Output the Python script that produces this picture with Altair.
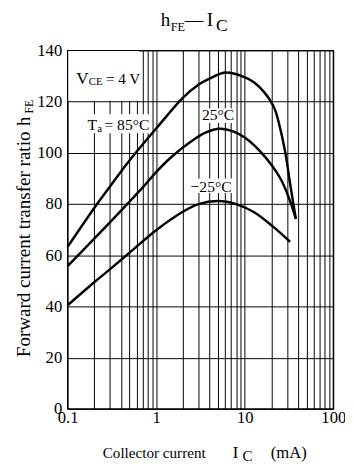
import altair as alt
import pandas as pd

FONT = "Liberation Serif, Times New Roman, serif"

# ---------------- data ----------------
ic_85 = [0.1, 0.2, 0.3, 0.5, 1.0, 2.0, 3.0, 4.0, 6.0, 9.0, 12.8, 16.0, 19.4, 22.0, 24.1, 28.6, 32.2, 37.8]
hfe_85 = [63.3, 78.5, 86.8, 97.0, 109.5, 121.5, 126.6, 129.0, 131.4, 130.2, 127.5, 124.3, 120.5, 116.8, 112.2, 100.5, 89.0, 74.2]

ic_25 = [0.1, 0.2, 0.471, 0.75, 1.0, 1.5, 2.5, 3.6, 5.26, 7.5, 10.0, 15.5, 25.2, 32.5, 37.8]
hfe_25 = [55.8, 66.5, 80.0, 87.5, 92.5, 98.5, 104.5, 107.9, 109.4, 108.3, 106.0, 100.0, 90.1, 81.2, 74.2]

ic_m25 = [0.1, 0.2, 0.3, 0.5, 1.0, 2.0, 3.0, 5.0, 8.0, 12.8, 21.2, 32.5]
hfe_m25 = [40.5, 49.5, 54.5, 61.0, 69.8, 77.0, 80.0, 81.2, 80.0, 76.8, 71.0, 65.3]

series_names = ["85", "25", "-25"]

x_grid = [0.1, 0.2, 0.3, 0.4, 0.5, 0.6, 0.7, 0.8, 0.9,
          1, 2, 3, 4, 5, 6, 7, 8, 9,
          10, 20, 30, 40, 50, 60, 70, 80, 90, 100]
y_grid = [0, 20, 40, 60, 80, 100, 120, 140]

# white backgrounds behind the in-plot labels (data coordinates)
box_x1 = [0.1, 0.161, 3.24, 2.39]
box_x2 = [0.64, 0.87, 7.69, 7.31]
box_y1 = [120.4, 107.7, 111.7, 84.3]
box_y2 = [140.0, 115.1, 117.4, 90.0]

# label anchors (data coordinates)
vce_anchor = (0.125, 126.9)
ta_anchor = (0.1674, 109.1)
note_text = ["25°C", "\u221225°C"]
note_x = [5.0, 4.17]
note_y = [112.7, 84.8]

# ---------------- build tables ----------------
rows = []
for name, xs, ys in zip(series_names, [ic_85, ic_25, ic_m25], [hfe_85, hfe_25, hfe_m25]):
    for i, (a, b) in enumerate(zip(xs, ys)):
        rows.append({"series": name, "ic": a, "hfe": b, "order": i})
curves = pd.DataFrame(rows)

boxes = pd.DataFrame({"x1": box_x1, "x2": box_x2, "y1": box_y1, "y2": box_y2})
notes = pd.DataFrame({"t": note_text, "x": note_x, "y": note_y})

W, H = 272, 367

xscale = alt.Scale(type="log", domain=[0.1, 100], nice=False)
yscale = alt.Scale(domain=[0, 140], nice=False, zero=True)

label_expr = ("abs(log(datum.value)/LN10 - round(log(datum.value)/LN10)) < 0.000001"
              " ? format(datum.value, '~g') : ''")

xaxis = alt.Axis(values=x_grid, grid=True, gridColor="black", gridOpacity=1, gridWidth=1,
                 ticks=False, domain=False, labelExpr=label_expr, labelFont=FONT,
                 labelFontSize=17, labelColor="black", labelPadding=1, title=None,
                 labelFlush=False, labelOverlap=False)
yaxis = alt.Axis(values=y_grid, grid=True, gridColor="black", gridOpacity=1, gridWidth=1,
                 ticks=False, domain=False, labelFont=FONT, labelFontSize=17,
                 labelColor="black", labelPadding=6, title=None, labelOverlap=False)


def X(field):
    return alt.X(field, scale=xscale, axis=xaxis)


def Y(field):
    return alt.Y(field, scale=yscale, axis=yaxis)


box_layer = alt.Chart(boxes).mark_rect(color="white").encode(
    x=X("x1:Q"), x2="x2:Q", y=Y("y1:Q"), y2="y2:Q",
)

line_layer = alt.Chart(curves).mark_line(color="black", strokeWidth=2.5,
                                         interpolate="catmull-rom").encode(
    x=X("ic:Q"), y=Y("hfe:Q"), detail="series:N", order="order:Q",
)


def data_text(anchor, text, dx=0, dy=0, size=16, align="left"):
    df = pd.DataFrame({"x": [anchor[0]], "y": [anchor[1]]})
    return alt.Chart(df).mark_text(text=text, dx=dx, dy=dy, font=FONT, fontSize=size,
                                   align=align, baseline="alphabetic", color="black").encode(
        x=X("x:Q"), y=Y("y:Q"),
    )


def px_text(x, y, text, size=17, align="left", angle=0):
    df = pd.DataFrame({"k": [0]})
    return alt.Chart(df).mark_text(text=text, font=FONT, fontSize=size, align=align,
                                   baseline="alphabetic", angle=angle,
                                   color="black").encode(
        x=alt.value(x), y=alt.value(y))


notes_layer = alt.Chart(notes).mark_text(font=FONT, fontSize=16, align="center",
                                         baseline="alphabetic", color="black").encode(
    x=X("x:Q"), y=Y("y:Q"), text="t:N",
)

labels = [
    data_text(vce_anchor, "V", 0, 0, 17.5),
    data_text(vce_anchor, "CE", 13.0, 1.5, 11),
    data_text(vce_anchor, "= 4 V", 30.5, 0, 15.5),
    data_text(ta_anchor, "T", 0, 0, 16),
    data_text(ta_anchor, "a", 10, 2.5, 11),
    data_text(ta_anchor, "= 85°C", 17.4, 0, 16),
    notes_layer,
    # chart title  hFE — IC
    px_text(95.5, -25.3, "h", 19.5),
    px_text(105.5, -20, "FE", 12.5),
    px_text(120, -25.3, "\u2014", 19),
    px_text(142.5, -25.3, "I", 19.5),
    px_text(152, -20, "C", 18),
    # x axis title
    px_text(36, 417, "Collector current", 15.5),
    px_text(169, 417, "I", 17),
    px_text(179, 420.5, "C", 15.5),
    px_text(208, 417, "(mA)", 17),
    # y axis title (rotated)
    px_text(-38.5, 83, "Forward current transfer ratio", 19.5, "right", 270),
    px_text(-38.5, 77.3, "h", 19, "left", 270),
    px_text(-35.5, 64.5, "FE", 12, "left", 270),
]

frame = alt.Chart(pd.DataFrame({"k": [0]})).mark_rect(filled=False, color="black",
                                                     strokeWidth=1.2).encode(
    x=alt.value(0), x2=alt.value(W), y=alt.value(0), y2=alt.value(H))

chart = alt.layer(box_layer, line_layer, *labels, frame).properties(
    width=W, height=H,
    autosize=alt.AutoSizeParams(type="none"),
    padding={"left": 61, "top": 38, "right": 12, "bottom": 56},
).configure_view(stroke=None)

chart.save("out.html", embed_options={"renderer": "svg", "actions": False})
